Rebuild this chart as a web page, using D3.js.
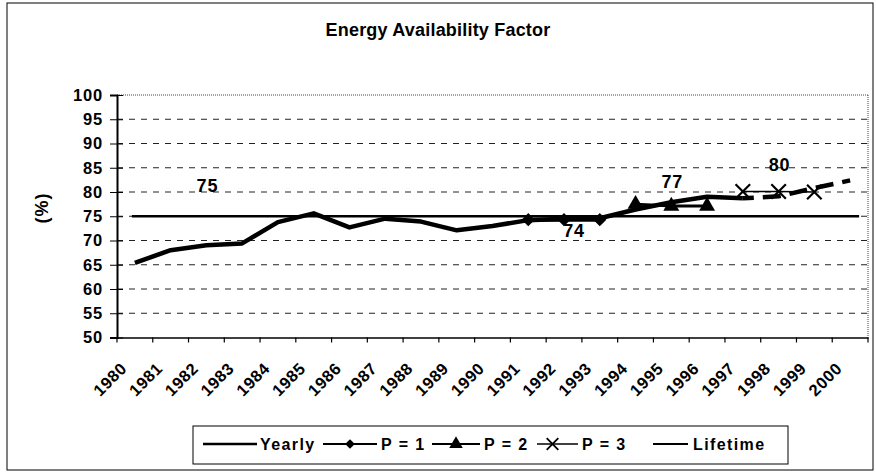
<!DOCTYPE html>
<html><head><meta charset="utf-8">
<script src="https://cdn.jsdelivr.net/npm/d3@7"></script>
<style>
body{margin:0;background:#fff;}
text{font-family:"Liberation Sans",Arial,sans-serif;font-weight:bold;fill:#000;}
</style></head>
<body><svg id="c" width="876" height="473"></svg>
<script>
// ---- data ----
const years = d3.range(1980, 2001).map(String);
const yearly = [65.4, 68.0, 69.0, 69.4, 73.8, 75.6, 72.7, 74.5, 73.9, 72.1, 73.0, 74.2, 74.5, 74.6, 76.4, 77.9, 79.0, 78.7];
const yearlyYears = d3.range(1980, 1998).map(String);
const forecast = [78.7, 79.1, 80.8, 82.4];
const forecastYears = ["1997", "1998", "1999", "2000"];
const p1Years = ["1991", "1992", "1993"];
const p1 = [74.3, 74.3, 74.3];
const p2Years = ["1994", "1995", "1996"];
const p2 = [77.5, 77.1, 77.1];
const p3Years = ["1997", "1998", "1999"];
const p3 = [80.1, 80.1, 80.0];
const lifetime = 75;
const yTicks = [50, 55, 60, 65, 70, 75, 80, 85, 90, 95, 100];
const labelTexts = ["75", "74", "77", "80"];
const labelYears = ["1982", "1992", "1995", "1998"];
const labelLevels = [81.2, 72.1, 82.2, 85.6];
const legendNames = ["Yearly", "P = 1", "P = 2", "P = 3", "Lifetime"];

// ---- layout ----
const svg = d3.select("#c");
const L = 117, R = 868, T = 95, B = 337.5;
const x = d3.scaleBand().domain(years).range([L, R]);
const cx = d => x(d) + x.bandwidth() / 2;
const y = d3.scaleLinear().domain([50, 100]).range([B, T]);
const FONT = "'Liberation Sans',Arial,sans-serif";

// outer frame
svg.append("rect").attr("x", 7).attr("y", 3).attr("width", 866).attr("height", 467)
  .attr("fill", "none").attr("stroke", "#000").attr("stroke-width", 1);

// title
svg.append("text").attr("x", 438).attr("y", 36).attr("text-anchor", "middle")
  .style("font-size", "18px").style("letter-spacing", "0.2px").text("Energy Availability Factor");

// gridlines
svg.append("g").selectAll("line").data(yTicks.filter(v => v > 50 && v < 100)).join("line")
  .attr("x1", L).attr("x2", R).attr("y1", d => y(d)).attr("y2", d => y(d))
  .attr("stroke", "#222").attr("stroke-width", 1).attr("stroke-dasharray", "6,6");
// plot area top/right (dotted)
svg.append("line").attr("x1", L).attr("x2", R).attr("y1", y(100)).attr("y2", y(100))
  .attr("stroke", "#444").attr("stroke-width", 1).attr("stroke-dasharray", "1,1");
svg.append("line").attr("x1", R).attr("x2", R).attr("y1", y(100)).attr("y2", y(50))
  .attr("stroke", "#444").attr("stroke-width", 1).attr("stroke-dasharray", "1,1");

// y axis
const ya = svg.append("g").attr("transform", `translate(${L},0)`)
  .call(d3.axisLeft(y).tickValues(yTicks).tickSize(7).tickPadding(7));
ya.select(".domain").attr("stroke", "#000").attr("stroke-width", 2);
ya.selectAll(".tick line").attr("x2", -7).attr("x1", 6).attr("stroke", "#000");
ya.selectAll("text").style("font-size", "16.5px").style("letter-spacing", "0.8px")
  .style("font-family", FONT).style("font-weight", "bold");

// y title
svg.append("text").attr("transform", "translate(48,208) rotate(-90)").attr("text-anchor", "middle")
  .style("font-size", "18px").style("letter-spacing", "1px").text("(%)");

// x axis
const xa = svg.append("g").attr("transform", `translate(0,${B})`)
  .call(d3.axisBottom(x).tickSize(0).tickPadding(0));
xa.select(".domain").attr("stroke", "#000").attr("stroke-width", 1.5);
xa.selectAll("text").attr("y", 0).attr("dy", 0)
  .attr("text-anchor", "end").attr("transform", "translate(-7,32) rotate(-45)")
  .style("font-size", "16.5px").style("letter-spacing", "0.6px")
  .style("font-family", FONT).style("font-weight", "bold");
svg.append("g").selectAll("line").data(years.concat(["end"])).join("line")
  .attr("x1", d => d === "end" ? R : x(d)).attr("x2", d => d === "end" ? R : x(d))
  .attr("y1", B).attr("y2", B + 5).attr("stroke", "#000").attr("stroke-width", 1.2);

// lifetime
svg.append("line").attr("x1", cx(years[0]) - 3).attr("x2", cx(years[years.length - 1]) + 9)
  .attr("y1", y(lifetime)).attr("y2", y(lifetime)).attr("stroke", "#000").attr("stroke-width", 2.5);

const line = d3.line().x(d => cx(d[0])).y(d => y(d[1]));
// yearly
svg.append("path").datum(yearlyYears.map((d, i) => [d, yearly[i]])).attr("d", line)
  .attr("fill", "none").attr("stroke", "#000").attr("stroke-width", 4.5).attr("stroke-linejoin", "round");
// forecast dashed
svg.append("path").datum(forecastYears.map((d, i) => [d, forecast[i]])).attr("d", line)
  .attr("fill", "none").attr("stroke", "#000").attr("stroke-width", 4.5).attr("stroke-dasharray", "18,9")
  .attr("stroke-dashoffset", -20);

// P = 1
svg.append("path").datum(p1Years.map((d, i) => [d, p1[i]])).attr("d", line)
  .attr("fill", "none").attr("stroke", "#000").attr("stroke-width", 4);
svg.append("g").selectAll("path").data(p1Years.map((d, i) => [d, p1[i]])).join("path")
  .attr("transform", d => `translate(${cx(d[0])},${y(d[1])})`)
  .attr("d", d3.symbol(d3.symbolDiamond2, 110)).attr("fill", "#000");
// P = 2
svg.append("path").datum(p2Years.map((d, i) => [d, p2[i]])).attr("d", line)
  .attr("fill", "none").attr("stroke", "#000").attr("stroke-width", 3);
svg.append("g").selectAll("path").data(p2Years.map((d, i) => [d, p2[i]])).join("path")
  .attr("transform", d => `translate(${cx(d[0])},${y(d[1])})`)
  .attr("d", d3.symbol(d3.symbolTriangle, 110)).attr("fill", "#000");
// P = 3
svg.append("path").datum(p3Years.map((d, i) => [d, p3[i]])).attr("d", line)
  .attr("fill", "none").attr("stroke", "#000").attr("stroke-width", 1.5);
svg.append("g").selectAll("path").data(p3Years.map((d, i) => [d, p3[i]])).join("path")
  .attr("transform", d => `translate(${cx(d[0])},${y(d[1])})`)
  .attr("d", d3.symbol(d3.symbolTimes, 140)).attr("fill", "none").attr("stroke", "#000").attr("stroke-width", 2.2);

// annotation labels
svg.append("g").selectAll("text").data(labelTexts).join("text")
  .attr("x", (d, i) => cx(labelYears[i]) + (i === 1 ? 10 : 1))
  .attr("y", (d, i) => y(labelLevels[i])).attr("dy", "0.35em").attr("text-anchor", "middle")
  .style("font-size", "18px").style("letter-spacing", "0.8px").text(d => d);

// legend
svg.append("rect").attr("x", 193).attr("y", 426).attr("width", 595).attr("height", 38)
  .attr("fill", "#fff").attr("stroke", "#000").attr("stroke-width", 1);
const legLayout = [
  {x1: 203, x2: 257, tx: 260, m: null},
  {x1: 323, x2: 377, tx: 381, m: "diamond"},
  {x1: 432, x2: 480, tx: 484, m: "triangle"},
  {x1: 537, x2: 578, tx: 582, m: "times"},
  {x1: 653, x2: 688, tx: 693, m: null}
];
const ly = 444;
const lg = svg.append("g");
legendNames.forEach((name, i) => {
  const s = legLayout[i];
  lg.append("line").attr("x1", s.x1).attr("x2", s.x2).attr("y1", ly).attr("y2", ly)
    .attr("stroke", "#000").attr("stroke-width", i === 0 ? 2.5 : (i === 3 ? 1.5 : 2));
  const mx = (s.x1 + s.x2) / 2 + (i === 3 ? -5 : 0);
  if (s.m === "diamond") lg.append("path").attr("transform", `translate(${mx},${ly})`).attr("d", d3.symbol(d3.symbolDiamond2, 60)).attr("fill", "#000");
  if (s.m === "triangle") lg.append("path").attr("transform", `translate(${mx},${ly})`).attr("d", d3.symbol(d3.symbolTriangle, 80)).attr("fill", "#000");
  if (s.m === "times") lg.append("path").attr("transform", `translate(${mx},${ly})`).attr("d", d3.symbol(d3.symbolTimes, 90)).attr("fill", "none").attr("stroke", "#000").attr("stroke-width", 1.8);
  lg.append("text").attr("x", s.tx).attr("y", ly).attr("dy", "0.35em")
    .style("font-size", "16px").style("letter-spacing", "1.4px").text(name);
});
</script></body></html>
